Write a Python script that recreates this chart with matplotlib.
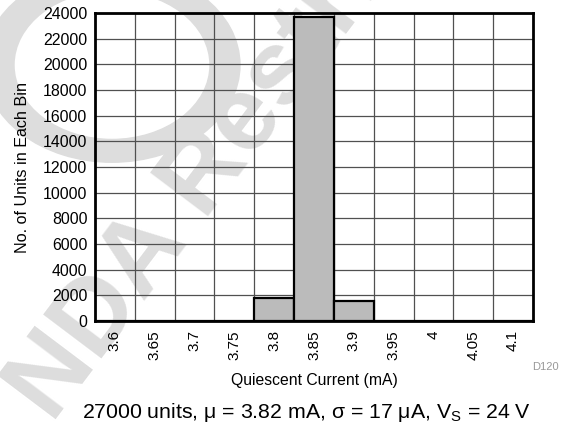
import matplotlib.pyplot as plt
from matplotlib.patches import Wedge
import numpy as np

plt.rcParams['font.family'] = ['Liberation Sans', 'DejaVu Sans']

# bin labels (mA) and unit counts per bin
bins = ["3.6", "3.65", "3.7", "3.75", "3.8", "3.85", "3.9", "3.95", "4", "4.05", "4.1"]
counts = [0, 0, 0, 0, 1770, 23670, 1560, 0, 0, 0, 0]
yticks = list(range(0, 24001, 2000))

fig = plt.figure(figsize=(5.66, 4.30), dpi=100)

# faint watermark behind the plot
wm = '#dddddd'
fig.patches.append(Wedge((112 / 566, 1 - 65 / 430), 128 / 566, 0, 360, width=30 / 566,
                         transform=fig.transFigure, color=wm, zorder=-5))
fig.text(262 / 566, 1 - 100 / 430, "NDA Restricted", fontsize=76, fontweight='bold',
         color=wm, rotation=53, rotation_mode='anchor', ha='center', va='center',
         zorder=-5, clip_on=True)

ax = fig.add_axes([95 / 566, 1 - 321 / 430, 438 / 566, 308 / 430])
ax.patch.set_alpha(0)

x = np.arange(len(bins))
ax.bar(x, counts, width=1.0, color='#bbbbbb', edgecolor='black', linewidth=1.6, zorder=3)

ax.set_xlim(-0.5, len(bins) - 0.5)
ax.set_ylim(0, 24000)
ax.set_xticks(x)
ax.set_xticklabels(bins, rotation=90, va='top', ha='center')
ax.set_xticks(np.arange(0.5, len(bins) - 1, 1.0), minor=True)
ax.set_yticks(yticks)
ax.tick_params(axis='both', which='both', length=0)
ax.tick_params(axis='x', pad=6.5, labelsize=11)
ax.tick_params(axis='y', pad=5.5, labelsize=11.4)

ax.grid(True, which='minor', axis='x', color='#505050', linewidth=0.9, zorder=1)
ax.grid(True, which='major', axis='y', color='#505050', linewidth=0.9, zorder=1)
ax.set_axisbelow(True)
for s in ax.spines.values():
    s.set_linewidth(2.0)
    s.set_zorder(5)

ax.set_ylabel("No. of Units in Each Bin", fontsize=11.6)
ax.yaxis.set_label_coords(-65 / 438, 0.5)
fig.text(314 / 566, 1 - 380 / 430, "Quiescent Current (mA)", fontsize=11.3,
         ha='center', va='center')
fig.text(545 / 566, 1 - 367 / 430, "D120", fontsize=8, color='#999999',
         ha='center', va='center')
fig.text(306 / 566, 1 - 413 / 430,
         r"27000 units, μ = 3.82 mA, σ = 17 μA, V$_\mathregular{S}$ = 24 V",
         fontsize=15.3, ha='center', va='center')

fig.savefig("out.png", dpi=100)
